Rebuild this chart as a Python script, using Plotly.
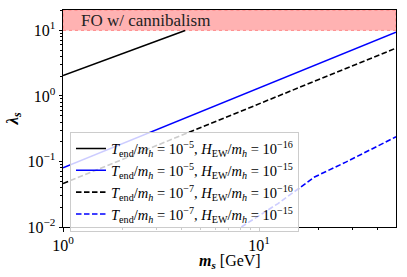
import plotly.graph_objects as go
import math

# ---- data ----
series_names = [
    "<i>T</i><sub>end</sub>/<i>m<sub>h</sub></i> = 10<sup>−5</sup>, <i>H</i><sub>EW</sub>/<i>m<sub>h</sub></i> = 10<sup>−16</sup>",
    "<i>T</i><sub>end</sub>/<i>m<sub>h</sub></i> = 10<sup>−5</sup>, <i>H</i><sub>EW</sub>/<i>m<sub>h</sub></i> = 10<sup>−15</sup>",
    "<i>T</i><sub>end</sub>/<i>m<sub>h</sub></i> = 10<sup>−7</sup>, <i>H</i><sub>EW</sub>/<i>m<sub>h</sub></i> = 10<sup>−16</sup>",
    "<i>T</i><sub>end</sub>/<i>m<sub>h</sub></i> = 10<sup>−7</sup>, <i>H</i><sub>EW</sub>/<i>m<sub>h</sub></i> = 10<sup>−15</sup>",
]
m1_x = [1.0, 4.2]
m1_y = [2.05, 10.0]
m2_x = [1.0, 50.0]
m2_y = [0.080, 9.4]
m3_x = [1.0, 50.0]
m3_y = [0.046, 5.37]
m4_x = [8.13, 12.5, 19.2, 27.9, 50.0]
m4_y = [0.0100, 0.0228, 0.058, 0.0986, 0.238]

band_low = 10.0
band_high = 20.5
x_min, x_max = 1.0, 50.0
y_min, y_max = 0.01, 20.5

x_tickvals = [1, 10]
x_ticktext = ["10<sup>0</sup>", "10<sup>1</sup>"]
y_tickvals = [0.01, 0.1, 1, 10]
y_ticktext = ["10<sup>−2</sup>", "10<sup>−1</sup>", "10<sup>0</sup>", "10<sup>1</sup>"]
band_label = "FO w/ cannibalism"
x_title = "<b><i>m<sub>s</sub></i></b> [GeV]"
y_title = "<b><i>λ<sub>s</sub></i></b>"

FONT = "Liberation Serif, Times New Roman, serif"

fig = go.Figure()

# shaded band
fig.add_trace(go.Scatter(
    x=[x_min, x_max, x_max, x_min, x_min],
    y=[band_low, band_low, band_high, band_high, band_low],
    fill="toself", fillcolor="rgba(255,0,0,0.3)",
    line=dict(color="rgba(255,0,0,0.35)", width=1, dash="dot"),
    mode="lines", showlegend=False, hoverinfo="skip",
))

styles = [
    dict(color="black", width=1.6),
    dict(color="#0000ff", width=1.6),
    dict(color="black", width=1.6, dash="5.5px,2.5px"),
    dict(color="#0000ff", width=1.6, dash="5.5px,2.5px"),
]
for name, xs, ys, st in zip(series_names, [m1_x, m2_x, m3_x, m4_x],
                            [m1_y, m2_y, m3_y, m4_y], styles):
    fig.add_trace(go.Scatter(x=xs, y=ys, mode="lines", name=name, line=st))

def minor_vals(lo, hi):
    out = []
    e = math.floor(math.log10(lo))
    while 10 ** e <= hi:
        for k in range(2, 10):
            v = k * 10 ** e
            if lo < v < hi:
                out.append(v)
        e += 1
    return out

common = dict(
    ticks="outside", ticklen=3.5, tickwidth=1, tickcolor="black",
    showline=True, mirror=True, linecolor="black", linewidth=1,
    showgrid=False, zeroline=False, automargin=False,
    tickfont=dict(family=FONT, size=16, color="black"),
)
fig.update_xaxes(
    type="log", range=[math.log10(x_min), math.log10(x_max)],
    tickmode="array", tickvals=x_tickvals, ticktext=x_ticktext,
    minor=dict(tickmode="array", tickvals=minor_vals(x_min, x_max),
               ticks="outside", ticklen=2, tickwidth=0.8, tickcolor="black", showgrid=False),
    **common,
)
fig.update_yaxes(
    type="log", range=[math.log10(y_min), math.log10(y_max)],
    tickmode="array", tickvals=y_tickvals, ticktext=y_ticktext,
    minor=dict(tickmode="array", tickvals=minor_vals(y_min, y_max),
               ticks="outside", ticklen=2, tickwidth=0.8, tickcolor="black", showgrid=False),
    **common,
)

fig.add_annotation(
    text=band_label, xref="paper", yref="paper", x=0.048, y=0.95,
    xanchor="left", yanchor="middle", showarrow=False,
    font=dict(family=FONT, size=17, color="#222222"),
)
fig.add_annotation(
    text=x_title, xref="paper", yref="paper", x=0.5, y=-0.105,
    xanchor="center", yanchor="top", showarrow=False,
    font=dict(family=FONT, size=16, color="black"),
)
fig.add_annotation(
    text=y_title, xref="paper", yref="paper", x=-0.15, y=0.5,
    xanchor="center", yanchor="middle", showarrow=False, textangle=-90,
    font=dict(family=FONT, size=17, color="black"),
)

fig.update_layout(
    width=407, height=277,
    margin=dict(l=63, r=11, t=10, b=50),
    plot_bgcolor="white", paper_bgcolor="white",
    legend=dict(
        x=0.021, y=0.44, xanchor="left", yanchor="top",
        bgcolor="rgba(255,255,255,0.8)", bordercolor="#cccccc", borderwidth=1,
        font=dict(family=FONT, size=14.5, color="black"),
        tracegroupgap=0, itemwidth=30,
    ),
    font=dict(family=FONT),
)

fig.write_html("out.html", config={"displayModeBar": False},
               post_script="document.body.style.margin='0px';")
